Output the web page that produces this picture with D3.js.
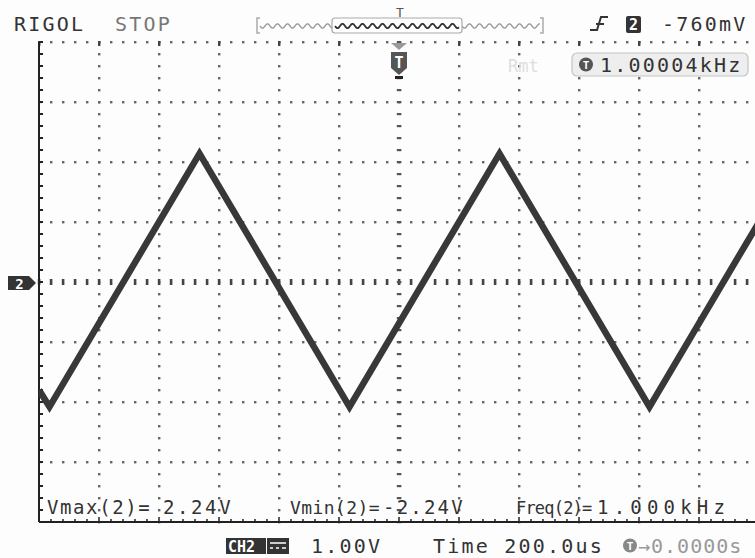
<!DOCTYPE html>
<html>
<head>
<meta charset="utf-8">
<script src="https://cdn.jsdelivr.net/npm/d3@7"></script>
<style>
  html, body { margin: 0; padding: 0; background: #fdfdfd; }
  svg { display: block; }
  text { font-family: 'DejaVu Sans Mono', monospace; }
</style>
</head>
<body>
<div id="scope"></div>
<script>
// trace vertices (time in us from trigger, volts)
const traceTime = [-1200, -1165, -665, -165, 335, 835, 1200]
const traceVolts = [-1.8, -2.08, 2.14, -2.08, 2.14, -2.08, 1.0]

// grid: 12 x 200us, 8 x 1.00V
const timeDiv = [-1200, -1000, -800, -600, -400, -200, 0, 200, 400, 600, 800, 1000, 1200]
const voltDiv = [-4, -3, -2, -1, 0, 1, 2, 3, 4]

const measLabels = ['Vmax(2)=', 'Vmin(2)=', 'Freq(2)=']
const measValues = ['2.24V', '-2.24V', '1.000kHz']

const width = 755
const height = 558

const svg = d3.select('#scope').append('svg')
  .attr('width', width)
  .attr('height', height)

const x = d3.scaleLinear().domain([-1200, 1200]).range([39, 759])
const y = d3.scaleLinear().domain([-4, 4]).range([522, 42])

const minorT = d3.range(-1200, 1201, 40)
const minorV = d3.range(-40, 41, 2).map(v => v / 10)

const grid = svg.append('g')

// dotted division lines
timeDiv.filter(t => t !== -1200 && t !== 0).forEach(t => {
  grid.selectAll(null).data(minorV).enter().append('rect')
    .attr('x', x(t) - 1).attr('y', d => y(d) - 1)
    .attr('width', 2.4).attr('height', 2.4)
    .attr('fill', '#666')
})
voltDiv.filter(v => v !== -4 && v !== 0).forEach(v => {
  grid.selectAll(null).data(minorT).enter().append('rect')
    .attr('x', d => x(d) - 1).attr('y', y(v) - 1)
    .attr('width', 2.4).attr('height', 2.4)
    .attr('fill', '#666')
})
// ticks on top row at divisions
grid.selectAll(null).data(timeDiv).enter().append('rect')
  .attr('x', d => x(d) - 1).attr('y', y(4) - 1)
  .attr('width', 2.4).attr('height', 5)
  .attr('fill', '#444')

// centre axes: short dashes
grid.selectAll(null).data(minorT).enter().append('rect')
  .attr('x', d => x(d) - 1.2).attr('y', y(0) - 3)
  .attr('width', 2.6).attr('height', 6)
  .attr('fill', '#444')
grid.selectAll(null).data(minorV).enter().append('rect')
  .attr('x', x(0) - 2.2).attr('y', d => y(d) - 1)
  .attr('width', 4.6).attr('height', 2.2)
  .attr('fill', '#555')

// left and bottom border with ticks
grid.append('line')
  .attr('x1', x(-1200)).attr('x2', x(-1200))
  .attr('y1', y(4)).attr('y2', y(-4))
  .attr('stroke', '#222').attr('stroke-width', 2)
grid.selectAll(null).data(minorV).enter().append('line')
  .attr('x1', x(-1200)).attr('x2', x(-1200) + 4)
  .attr('y1', d => y(d)).attr('y2', d => y(d))
  .attr('stroke', '#222').attr('stroke-width', 2)
grid.append('line')
  .attr('x1', x(-1200)).attr('x2', width)
  .attr('y1', y(-4)).attr('y2', y(-4))
  .attr('stroke', '#222').attr('stroke-width', 2)
grid.selectAll(null).data(minorT).enter().append('line')
  .attr('x1', d => x(d)).attr('x2', d => x(d))
  .attr('y1', y(-4)).attr('y2', d => y(-4) - (timeDiv.includes(d) ? 5 : 3))
  .attr('stroke', '#222').attr('stroke-width', 1.5)

// trace
svg.append('clipPath').attr('id', 'screen')
  .append('rect')
  .attr('x', x(-1200)).attr('y', y(4))
  .attr('width', x(1200) - x(-1200)).attr('height', y(-4) - y(4))

const points = traceTime.map((t, i) => [t, traceVolts[i]])
svg.append('path')
  .datum(points)
  .attr('clip-path', 'url(#screen)')
  .attr('fill', 'none')
  .attr('stroke', '#383838')
  .attr('stroke-width', 6.5)
  .attr('stroke-linejoin', 'miter')
  .attr('d', d3.line().x(d => x(d[0])).y(d => y(d[1])))

// measurements: [label x, label size, label spacing, value x, value spacing]
const measPos = [[47, 19, 1.6, 163, 2.6], [290, 18, 0.4, 383, 2.2], [516, 17, -0.8, 597, 5.2]]
measLabels.forEach((m, i) => {
  const p = measPos[i]
  svg.append('text')
    .attr('x', p[0]).attr('y', 514)
    .attr('font-size', p[1]).attr('letter-spacing', p[2])
    .attr('fill', '#333')
    .text(m)
  svg.append('text')
    .attr('x', p[3]).attr('y', 514)
    .attr('font-size', 19).attr('letter-spacing', p[4])
    .attr('fill', '#333')
    .text(measValues[i])
})

// top status line
const topBar = svg.append('g').attr('font-size', 20).attr('letter-spacing', 2.2)
topBar.append('text').attr('x', 14).attr('y', 31).attr('fill', '#333').text('RIGOL')
topBar.append('text').attr('x', 115).attr('y', 31).attr('fill', '#777').text('STOP')
topBar.append('text').attr('x', 662).attr('y', 31).attr('fill', '#333').text('-760mV')

// memory bar
const mem = svg.append('g')
const wave = (x0, x1) => {
  const pts = []
  for (let px = x0; px <= x1; px += 1) pts.push([px, 26 + 2.2 * Math.sin((px - x0) / 10 * 2 * Math.PI)])
  return d3.line()(pts)
}
mem.append('path').attr('d', wave(260, 333)).attr('fill', 'none').attr('stroke', '#999').attr('stroke-width', 1.3)
mem.append('path').attr('d', wave(462, 540)).attr('fill', 'none').attr('stroke', '#999').attr('stroke-width', 1.3)
mem.append('rect').attr('x', 332).attr('y', 18).attr('width', 130).attr('height', 15).attr('rx', 3)
  .attr('fill', '#fff').attr('stroke', '#aaa').attr('stroke-width', 1.2)
mem.append('path').attr('d', wave(335, 459)).attr('fill', 'none').attr('stroke', '#333').attr('stroke-width', 1.8)
mem.append('path').attr('d', 'M260,18 H257 V33 H260 M540,18 H543 V33 H540')
  .attr('fill', 'none').attr('stroke', '#aaa').attr('stroke-width', 1.5)
mem.append('text').attr('x', 400).attr('y', 17).attr('text-anchor', 'middle')
  .attr('font-size', 13).attr('fill', '#555').text('T')

// trigger edge symbol and source box
svg.append('path').attr('d', 'M590,30 H597 L601,17 H608 M596,24 H604')
  .attr('fill', 'none').attr('stroke', '#333').attr('stroke-width', 2)
svg.append('rect').attr('x', 626).attr('y', 16).attr('width', 15).attr('height', 17).attr('rx', 2).attr('fill', '#333')
svg.append('text').attr('x', 633.5).attr('y', 30).attr('text-anchor', 'middle')
  .attr('font-size', 15).attr('font-weight', 'bold').attr('fill', '#fff').text('2')

// trigger position marker
svg.append('path').attr('d', 'M391,43 H407 L399,50 Z').attr('fill', '#999')
svg.append('path').attr('d', 'M391,52 H407 V68 L399,75 L391,68 Z').attr('fill', '#555')
svg.append('rect').attr('x', 395).attr('y', 76).attr('width', 8).attr('height', 3).attr('fill', '#222')
svg.append('text').attr('x', 399).attr('y', 68).attr('text-anchor', 'middle')
  .attr('font-size', 15).attr('font-weight', 'bold').attr('fill', '#fff').text('T')

// Rmt + frequency counter
svg.append('text').attr('x', 508).attr('y', 72).attr('font-size', 17).attr('fill', '#ddd').text('Rmt')
svg.append('rect').attr('x', 572).attr('y', 53).attr('width', 176).attr('height', 23).attr('rx', 5)
  .attr('fill', '#eee').attr('stroke', '#c4c4c4').attr('stroke-width', 1.2)
svg.append('circle').attr('cx', 586).attr('cy', 64.5).attr('r', 7).attr('fill', '#555')
svg.append('text').attr('x', 586).attr('y', 69).attr('text-anchor', 'middle')
  .attr('font-size', 11).attr('font-weight', 'bold').attr('fill', '#fff').text('T')
svg.append('text').attr('x', 600).attr('y', 72).attr('font-size', 20).attr('letter-spacing', 2.2)
  .attr('fill', '#333').text('1.00004kHz')

// channel ground marker
svg.append('path').attr('d', 'M8,276 H29 L36,283 L29,290 H8 Z').attr('fill', '#333')
svg.append('text').attr('x', 19.5).attr('y', 288.5).attr('text-anchor', 'middle')
  .attr('font-size', 14).attr('font-weight', 'bold').attr('fill', '#fff').text('2')

// bottom status line
const bot = svg.append('g').attr('font-size', 20).attr('letter-spacing', 2.2)
bot.append('rect').attr('x', 226).attr('y', 538).attr('width', 40).attr('height', 16).attr('fill', '#333')
bot.append('text').attr('x', 228).attr('y', 552).attr('font-size', 15).attr('font-weight', 'bold')
  .attr('letter-spacing', 0).attr('fill', '#fff').text('CH2')
bot.append('rect').attr('x', 267).attr('y', 538).attr('width', 22).attr('height', 16).attr('fill', '#333')
bot.append('path').attr('d', 'M270,543 H286 M270,548 H273 M276,548 H279 M282,548 H286')
  .attr('stroke', '#fff').attr('stroke-width', 1.6)
bot.append('text').attr('x', 311).attr('y', 553).attr('fill', '#333').text('1.00V')
bot.append('text').attr('x', 433).attr('y', 553).attr('fill', '#333').text('Time 200.0us')
bot.append('circle').attr('cx', 630).attr('cy', 545.5).attr('r', 7).attr('fill', '#888')
bot.append('text').attr('x', 630).attr('y', 550).attr('text-anchor', 'middle').attr('letter-spacing', 0)
  .attr('font-size', 11).attr('font-weight', 'bold').attr('fill', '#fff').text('T')
bot.append('text').attr('x', 638).attr('y', 553).attr('fill', '#999').attr('letter-spacing', 1)
  .text('→0.0000s')
</script>
</body>
</html>
